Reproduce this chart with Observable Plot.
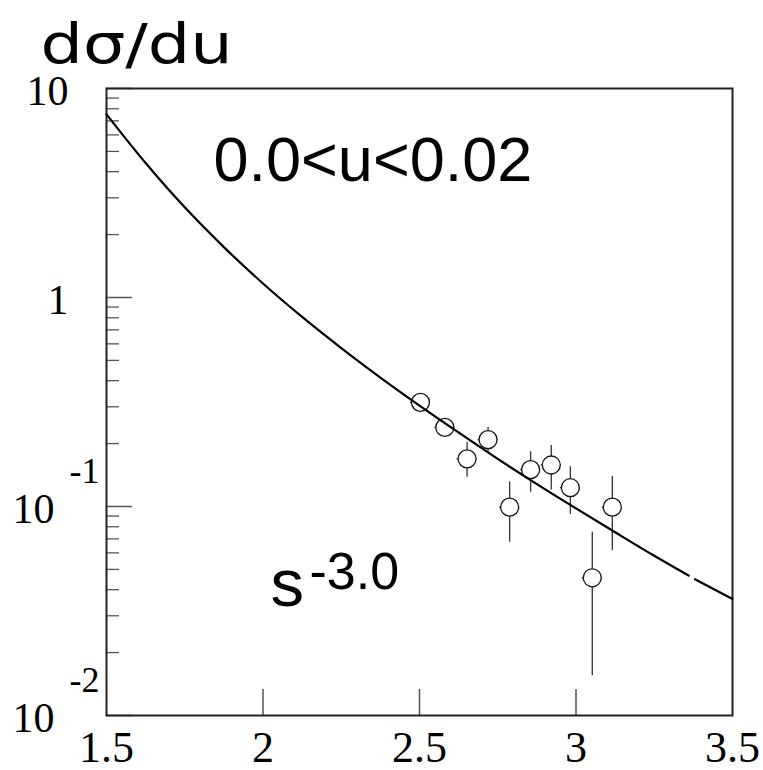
<!DOCTYPE html>
<html><head><meta charset="utf-8">
<script src="https://cdn.jsdelivr.net/npm/d3@7"></script>
<script src="https://cdn.jsdelivr.net/npm/@observablehq/plot@0.6"></script>
<style>body{margin:0;background:#fff}</style>
</head><body><div id="chart"></div>
<script>
// Data points (x, value, vertical error bounds, horizontal half-width)
const pointX     = [2.503, 2.581, 2.652, 2.719, 2.788, 2.855, 2.921, 2.982, 3.052, 3.116];
const pointY     = [0.315, 0.239, 0.169, 0.209, 0.0993, 0.150, 0.158, 0.123, 0.0456, 0.0993];
const pointYLow  = [0.300, 0.226, 0.138, 0.180, 0.0675, 0.117, 0.120, 0.0916, 0.0155, 0.0615];
const pointYHigh = [0.331, 0.253, 0.203, 0.239, 0.131, 0.183, 0.196, 0.155, 0.0753, 0.139];
const pointXErr  = [0.032, 0.032, 0.032, 0.032, 0.032, 0.032, 0.032, 0.032, 0.032, 0.032];

// Fitted curve (two drawn segments with a small gap)
const curveX   = [1.5, 1.625, 1.75, 1.875, 2.0, 2.125, 2.25, 2.375, 2.5, 2.625, 2.75, 2.875, 3.0, 3.125, 3.25, 3.36, 3.38, 3.5];
const curveY   = [7.52, 4.40, 2.70, 1.742, 1.167, 0.807, 0.573, 0.414, 0.304, 0.226, 0.169, 0.128, 0.0979, 0.0753, 0.0581, 0.0467, 0.0449, 0.0361];
const curveSeg = [0, 0, 0, 0, 0, 0, 0, 0, 0, 0, 0, 0, 0, 0, 0, 0, 1, 1];

// Axis ticks and labels
const xTickValues = [1.5, 2, 2.5, 3, 3.5];
const xTickLabels = ["1.5", "2", "2.5", "3", "3.5"];
const xInnerTicks = [2, 2.5, 3];
const yMajorTicks = [0.01, 0.1, 1, 10];
const yDecades = [0.01, 0.1, 1];
const yMultipliers = [2, 3, 4, 5, 6, 7, 8, 9];
const yPlainTicks = [10, 1];
const yPlainLabels = ["10", "1"];
const yPowTicks = [0.1, 0.01];
const yPowBase = ["10", "10"];
const yPowExp = ["-1", "-2"];

const yTitle = "dσ/du";
const rangeLabel = "0.0<u<0.02";
const scaleBase = "s";
const scaleExp = "-3.0";

const points = pointX.map((x, i) => ({x, y: pointY[i], lo: pointYLow[i], hi: pointYHigh[i], x1: x - pointXErr[i], x2: x + pointXErr[i]}));
const curve = curveX.map((x, i) => ({x, y: curveY[i], seg: curveSeg[i]}));
const yMinor = yDecades.flatMap(d => yMultipliers.map(m => +(d * m).toPrecision(3)));
const plain = yPlainTicks.map((v, i) => ({v, t: yPlainLabels[i]}));
const pow = yPowTicks.map((v, i) => ({v, b: yPowBase[i], e: yPowExp[i]}));
const xLab = xTickValues.map((v, i) => ({v, t: xTickLabels[i]}));

const W = 763, H = 770, ML = 106, MR = 31, MT = 88, MB = 55;
const FW = W - ML - MR, FH = H - MT - MB;
const serif = "Liberation Serif, Times New Roman, serif";
const sans = "Liberation Sans, Arial, sans-serif";

const chart = Plot.plot({
  width: W, height: H,
  marginLeft: ML, marginRight: MR, marginTop: MT, marginBottom: MB,
  x: {domain: [1.5, 3.5], axis: null},
  y: {type: "log", domain: [0.01, 10], axis: null},
  style: {background: "white"},
  marks: [
    Plot.tickY(yMinor, {y: d => d, insetRight: FW - 13, stroke: "#555", strokeWidth: 1.3}),
    Plot.tickY(yMajorTicks, {y: d => d, insetRight: FW - 26, stroke: "#555", strokeWidth: 1.5}),
    Plot.tickX(xInnerTicks, {x: d => d, insetTop: FH - 26, stroke: "#555", strokeWidth: 1.5}),
    Plot.frame({stroke: "#222", strokeWidth: 2}),
    Plot.ruleX(points, {x: "x", y1: "lo", y2: "hi", stroke: "#333", strokeWidth: 1.3}),
    Plot.ruleY(points, {y: "y", x1: "x1", x2: "x2", stroke: "#333", strokeWidth: 1.3}),
    Plot.dot(points, {x: "x", y: "y", r: 9, fill: "white", stroke: "#111", strokeWidth: 1.3}),
    Plot.line(curve, {x: "x", y: "y", z: "seg", curve: "monotone-x", stroke: "#000", strokeWidth: 2.2}),
    // y tick labels
    Plot.text(plain, {y: "v", text: "t", frameAnchor: "left", dx: -38, dy: 16, textAnchor: "end", lineAnchor: "bottom", fontSize: 42, fontFamily: serif, fill: "#000"}),
    Plot.text(pow, {y: "v", text: "b", frameAnchor: "left", dx: -52, dy: 16, textAnchor: "end", lineAnchor: "bottom", fontSize: 42, fontFamily: serif, fill: "#000"}),
    Plot.text(pow, {y: "v", text: "e", frameAnchor: "left", dx: -37, dy: -24, textAnchor: "start", lineAnchor: "bottom", fontSize: 36, fontFamily: serif, fill: "#000"}),
    // x tick labels
    Plot.text(xLab, {x: "v", text: "t", frameAnchor: "bottom", dy: 46, lineAnchor: "bottom", fontSize: 44, fontFamily: serif, fill: "#000"}),
    // titles / annotations
    Plot.text([yTitle], {text: d => d, frameAnchor: "top-left", dx: -66, dy: -26, textAnchor: "start", lineAnchor: "bottom", fontSize: 56, fontFamily: "DejaVu Sans, sans-serif", fill: "#000"}),
    Plot.text([rangeLabel], {text: d => d, frameAnchor: "top-left", dx: 107, dy: 92, textAnchor: "start", lineAnchor: "bottom", fontSize: 63, fontFamily: sans, fill: "#000"}),
    Plot.text([scaleBase], {text: d => d, frameAnchor: "top-left", dx: 164, dy: 517, textAnchor: "start", lineAnchor: "bottom", fontSize: 67, fontFamily: sans, fill: "#000"}),
    Plot.text([scaleExp], {text: d => d, frameAnchor: "top-left", dx: 203, dy: 500, textAnchor: "start", lineAnchor: "bottom", fontSize: 52, fontFamily: sans, fill: "#000"})
  ]
});
document.getElementById("chart").appendChild(chart);
d3.select(chart).selectAll("text").filter(function() { return this.textContent === yTitle; })
  .attr("textLength", 192).attr("lengthAdjust", "spacingAndGlyphs");
</script>
</body></html>
